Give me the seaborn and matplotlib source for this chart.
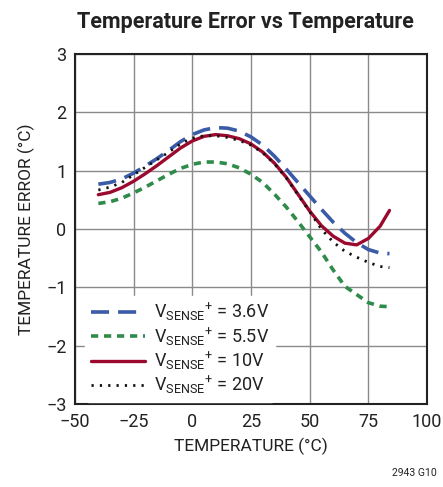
import matplotlib
matplotlib.use("Agg")
import matplotlib.pyplot as plt
import seaborn as sns
import pandas as pd

# temperatures (°C)
temp = [-40, -35, -30, -25, -20, -15, -10, -5, 0, 5, 10, 15, 20, 25, 30,
        35, 40, 45, 50, 55, 60, 65, 70, 75, 80, 84]

# temperature error (°C) per sense voltage
err_36 = [0.77, 0.80, 0.86, 0.96, 1.08, 1.21, 1.35, 1.50, 1.62, 1.70, 1.74, 1.73, 1.68,
          1.58, 1.44, 1.25, 1.03, 0.80, 0.57, 0.34, 0.12, -0.07, -0.23, -0.35, -0.41, -0.42]
err_55 = [0.44, 0.47, 0.53, 0.62, 0.72, 0.83, 0.94, 1.04, 1.11, 1.15, 1.15, 1.12, 1.05,
          0.94, 0.80, 0.60, 0.38, 0.13, -0.13, -0.39, -0.70, -0.98, -1.12, -1.26, -1.32, -1.33]
err_10 = [0.59, 0.63, 0.71, 0.82, 0.95, 1.09, 1.24, 1.39, 1.51, 1.59, 1.62, 1.60, 1.55,
          1.46, 1.32, 1.13, 0.89, 0.60, 0.31, 0.06, -0.12, -0.24, -0.27, -0.16, 0.05, 0.32]
err_20 = [0.67, 0.72, 0.80, 0.93, 1.06, 1.19, 1.32, 1.46, 1.56, 1.60, 1.60, 1.57, 1.52,
          1.44, 1.31, 1.12, 0.88, 0.59, 0.30, 0.00, -0.22, -0.38, -0.48, -0.57, -0.64, -0.66]

labels = [r"V$_{\mathregular{SENSE}}$$^{\mathregular{+}}$ = 3.6V",
          r"V$_{\mathregular{SENSE}}$$^{\mathregular{+}}$ = 5.5V",
          r"V$_{\mathregular{SENSE}}$$^{\mathregular{+}}$ = 10V",
          r"V$_{\mathregular{SENSE}}$$^{\mathregular{+}}$ = 20V"]
series = [err_36, err_55, err_10, err_20]
colors = ["#3a5ba8", "#2e8b4a", "#9b0a2e", "#111111"]
styles = [(0, (5, 2.5)), (0, (2, 1.6)), "-", (0, (0.8, 2.2))]
widths = [2.6, 2.6, 2.4, 2.0]

sns.set_style("white")
plt.rcParams["font.family"] = ["Roboto", "DejaVu Sans"]
plt.rcParams["mathtext.fontset"] = "custom"
plt.rcParams["mathtext.rm"] = "Roboto"

fig = plt.figure(figsize=(4.43, 4.87), dpi=100)
ax = fig.add_axes([0.169, 0.170, 0.795, 0.719])

for vals, lab, c, ls, lw in zip(series, labels, colors, styles, widths):
    df = pd.DataFrame({"temp": temp, "err": vals})
    sns.lineplot(data=df, x="temp", y="err", ax=ax, color=c, linestyle=ls,
                 linewidth=lw, label=lab, zorder=3)

ax.set_xlim(-50, 100)
ax.set_ylim(-3, 3)
ax.set_xticks([-50, -25, 0, 25, 50, 75, 100])
ax.set_xticklabels(["\u221250", "\u221225", "0", "25", "50", "75", "100"])
ax.set_yticks([-3, -2, -1, 0, 1, 2, 3])
ax.set_yticklabels(["\u22123", "\u22122", "\u22121", "0", "1", "2", "3"])
ax.tick_params(length=0, labelsize=13, pad=6, colors="#222222")
ax.grid(True, color="#8a8a8a", linewidth=1.0, zorder=0)
for s in ax.spines.values():
    s.set_color("#222222")
    s.set_linewidth(1.5)

ax.set_xlabel("TEMPERATURE (°C)", fontsize=12.5, color="#222222", labelpad=5)
ax.set_ylabel("TEMPERATURE ERROR (°C)", fontsize=12.5, color="#222222", labelpad=8)
fig.text(0.555, 0.955, "Temperature Error vs Temperature", ha="center", va="center",
         fontsize=15.5, fontweight="bold", color="#222222")
fig.text(0.985, 0.018, "2943 G10", ha="right", va="bottom", fontsize=7.5, color="#222222")

leg = ax.legend(loc="upper left", bbox_to_anchor=(0.03, 0.31), frameon=True,
                fontsize=13, handlelength=3.0, handletextpad=0.5,
                labelspacing=0.1, borderpad=0.3, borderaxespad=0)
leg.get_frame().set_edgecolor("white")
leg.get_frame().set_facecolor("white")
leg.get_frame().set_alpha(1)
leg.set_zorder(4)
for t in leg.get_texts():
    t.set_color("#222222")

fig.savefig("out.png", dpi=100)
